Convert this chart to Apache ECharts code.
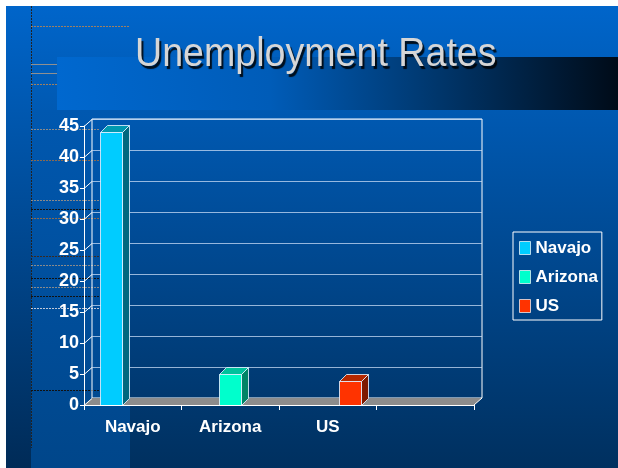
<!DOCTYPE html>
<html>
<head>
<meta charset="utf-8">
<script src="https://cdn.jsdelivr.net/npm/echarts@6/dist/echarts.min.js"></script>
<style>
  html, body { margin: 0; padding: 0; background: #fff; }
  #chart { width: 618px; height: 468px; }
</style>
</head>
<body>
<div id="chart"></div>
<script>
// chart data
const categories = ['Navajo', 'Arizona', 'US', '']
const seriesNames = ['Navajo', 'Arizona', 'US']
const rates = [44, 5, 3.9]
const yTicks = [0, 5, 10, 15, 20, 25, 30, 35, 40, 45]

// faces of the 3d bars
const frontColors = ['#00ccff', '#00ffcc', '#ff3300']
const topColors = ['#0099b0', '#00c29c', '#b52800']
const sideColors = ['#00687f', '#008466', '#7d1a00']

const BAR_W = 22
const BAR_DX = 7
const BAR_DY = -7
const WALL_DX = 8
const WALL_DY = -7
const FONT = 'Liberation Sans, Arial, sans-serif'

const myChart = echarts.init(document.getElementById('chart'))

function barRenderer (k) {
  return function (params, api) {
    const top = api.coord([api.value(0), api.value(1)])
    const base = api.coord([api.value(0), 0])
    const x = Math.round(top[0] + (k - 1) * BAR_W - BAR_W / 2) + 0.5
    const y = Math.round(top[1]) + 0.5
    const by = Math.round(base[1]) + 0.5
    const edge = { stroke: 'rgba(225,240,255,0.85)', lineWidth: 1 }
    return {
      type: 'group',
      children: [
        {
          type: 'polygon',
          shape: { points: [[x + BAR_W, y], [x + BAR_W + BAR_DX, y + BAR_DY], [x + BAR_W + BAR_DX, by + BAR_DY], [x + BAR_W, by]] },
          style: { fill: sideColors[k], ...edge }
        },
        {
          type: 'polygon',
          shape: { points: [[x, y], [x + BAR_W, y], [x + BAR_W + BAR_DX, y + BAR_DY], [x + BAR_DX, y + BAR_DY]] },
          style: { fill: topColors[k], ...edge }
        },
        {
          type: 'rect',
          shape: { x, y, width: BAR_W, height: by - y },
          style: { fill: frontColors[k], ...edge }
        }
      ]
    }
  }
}

// floor + the slanted ticks of the left wall
function frameRenderer (params, api) {
  const cs = params.coordSys
  const p = api.coord([0, api.value(1)])
  const y = Math.round(p[1]) + 0.5
  const children = [{
    type: 'line',
    shape: { x1: cs.x, y1: y, x2: cs.x + WALL_DX, y2: y + WALL_DY },
    style: { stroke: '#fff', lineWidth: 1 }
  }]
  if (params.dataIndex === 0) {
    const fy = cs.y + cs.height
    const rx = cs.x + cs.width
    children.unshift({
      type: 'polygon',
      shape: { points: [[cs.x, fy], [rx, fy], [rx + WALL_DX, fy + WALL_DY], [cs.x + WALL_DX, fy + WALL_DY]] },
      style: { fill: '#8c8c8c' }
    })
    children.push({
      type: 'line',
      shape: { x1: rx, y1: fy, x2: rx + WALL_DX, y2: fy + WALL_DY },
      style: { stroke: '#fff', lineWidth: 1 }
    })
  }
  return { type: 'group', children }
}

// template decoration lines on the left of the slide
const decoLines = [
  [26, 129, '#a08060'], [64, 57, '#909090', 'solid'], [73, 57, '#909090', 'solid'], [84, 57, '#a08060'],
  [129, 100, '#8a8a8a'], [160, 100, '#8a6a50'], [200, 100, '#8a8a8a'], [209, 100, '#111'],
  [218, 100, '#8a6a50'], [256, 100, '#3a2a20'], [265, 100, '#8a8a8a'], [278, 100, '#111'],
  [287, 100, '#8a8a8a'], [296, 100, '#111'], [308, 100, '#c0c8d8'], [390, 100, '#111']
]

const graphic = [
  { type: 'rect', z: 0, shape: { x: 0, y: 0, width: 618, height: 6 }, style: { fill: '#fff' } },
  { type: 'rect', z: 0, shape: { x: 0, y: 0, width: 6, height: 468 }, style: { fill: '#fff' } },
  {
    type: 'rect', z: 0, shape: { x: 6, y: 6, width: 25, height: 462 },
    style: { fill: new echarts.graphic.LinearGradient(0, 0, 0, 1, [{ offset: 0, color: '#0065ca' }, { offset: 1, color: '#002b57' }]) }
  },
  {
    type: 'rect', z: 0, shape: { x: 31, y: 110, width: 99, height: 358 },
    style: { fill: new echarts.graphic.LinearGradient(0, 0, 0, 1, [{ offset: 0, color: '#0058b0' }, { offset: 1, color: '#00468a' }]) }
  },
  {
    type: 'rect', z: 0, shape: { x: 57, y: 57, width: 561, height: 53 },
    style: {
      fill: new echarts.graphic.LinearGradient(0, 0, 1, 0, [
        { offset: 0, color: '#0068cf' }, { offset: 0.38, color: '#005cb8' },
        { offset: 0.65, color: '#003a73' }, { offset: 1, color: '#000b18' }
      ])
    }
  },
  { type: 'line', z: 0, shape: { x1: 31.5, y1: 6, x2: 31.5, y2: 448 }, style: { stroke: '#222', lineWidth: 1, lineDash: [2, 1] } },
  ...decoLines.map(d => ({
    type: 'line',
    z: 0,
    shape: { x1: 31, y1: d[0] + 0.5, x2: d[1], y2: d[0] + 0.5 },
    style: { stroke: d[2], lineWidth: 1, lineDash: d[3] === 'solid' ? null : [2, 1] }
  })),
  {
    type: 'text',
    z: 10,
    x: 135,
    y: 55,
    scaleX: 0.94,
    style: {
      text: 'Unemployment Rates',
      fill: '#d6d6d6',
      fontSize: 40,
      fontFamily: FONT,
      verticalAlign: 'middle',
      textShadowColor: 'rgba(0,0,0,0.85)',
      textShadowBlur: 1,
      textShadowOffsetX: 2,
      textShadowOffsetY: 3
    }
  }
]

const axisText = { color: '#fff', fontSize: 18, fontWeight: 'bold', fontFamily: FONT }

const option = {
  animation: false,
  backgroundColor: {
    type: 'linear', x: 0, y: 0, x2: 0, y2: 1,
    colorStops: [{ offset: 0, color: '#0066cc' }, { offset: 1, color: '#00305f' }]
  },
  graphic,
  legend: {
    orient: 'vertical',
    left: 513,
    top: 232,
    data: seriesNames,
    selectedMode: false,
    icon: 'rect',
    itemWidth: 11,
    itemHeight: 13,
    itemGap: 11,
    padding: [7, 4, 5, 6],
    borderColor: '#fff',
    borderWidth: 1,
    itemStyle: { borderColor: 'rgba(255,255,255,0.7)', borderWidth: 1 },
    textStyle: { ...axisText, fontSize: 17, lineHeight: 18 }
  },
  grid: [
    { left: 84, right: 144, top: 126, bottom: 63, z: 3 },
    { left: 92, right: 136, top: 119, bottom: 70, show: true, borderColor: '#fff', borderWidth: 1, backgroundColor: 'transparent', z: 2 }
  ],
  xAxis: [
    {
      type: 'category',
      gridIndex: 0,
      data: categories,
      z: 10,
      axisLine: { lineStyle: { color: '#fff', width: 1 } },
      axisTick: { show: true, interval: 0, length: 5, lineStyle: { color: '#fff' } },
      axisLabel: { ...axisText, fontSize: 17, margin: 14 },
      splitLine: { show: false }
    },
    {
      type: 'category',
      gridIndex: 1,
      data: categories,
      show: false
    }
  ],
  yAxis: [
    {
      type: 'value',
      gridIndex: 0,
      min: 0,
      max: 45,
      interval: 5,
      z: 10,
      axisLine: { show: true, lineStyle: { color: '#fff', width: 1 } },
      axisTick: { show: true, length: 4, lineStyle: { color: '#fff' } },
      axisLabel: { ...axisText, margin: 5 },
      splitLine: { show: false }
    },
    {
      type: 'value',
      gridIndex: 1,
      min: 0,
      max: 45,
      interval: 5,
      z: 2,
      axisLine: { show: false },
      axisTick: { show: false },
      axisLabel: { show: false },
      splitLine: { show: true, lineStyle: { color: 'rgba(200,220,245,0.75)', width: 1 } }
    }
  ],
  series: [
    {
      name: 'frame',
      type: 'custom',
      xAxisIndex: 0,
      yAxisIndex: 0,
      z: 4,
      silent: true,
      renderItem: frameRenderer,
      data: yTicks.map(v => [categories[0], v])
    },
    ...seriesNames.map((name, k) => ({
      name,
      type: 'custom',
      xAxisIndex: 0,
      yAxisIndex: 0,
      z: 5,
      itemStyle: { color: frontColors[k] },
      renderItem: barRenderer(k),
      data: [[categories[k], rates[k]]]
    }))
  ]
}

myChart.setOption(option)
</script>
</body>
</html>
